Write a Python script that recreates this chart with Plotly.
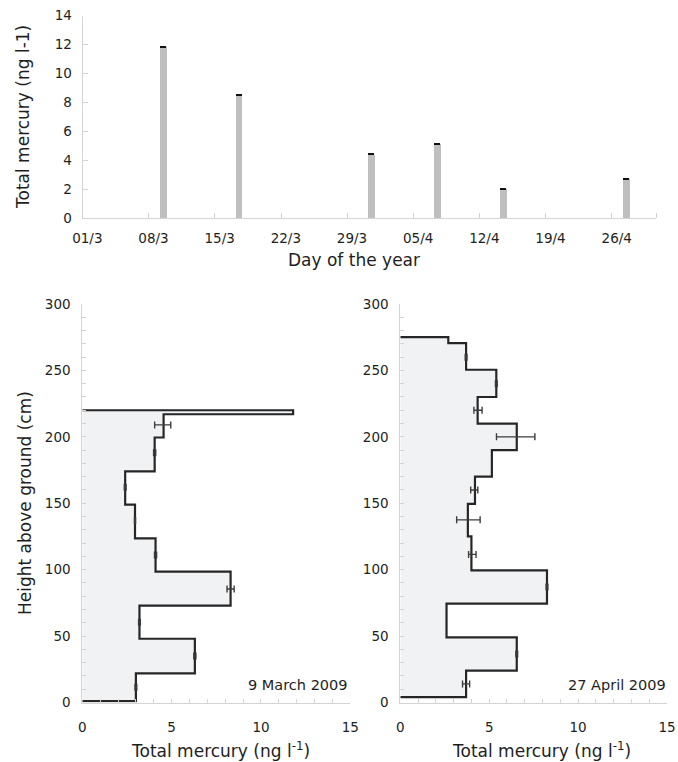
import plotly.graph_objects as go
import pandas as pd

# ---------------- data ----------------
# Top panel: surface snow total mercury by sampling date
sample_dates = ["2009-03-09", "2009-03-17", "2009-03-31", "2009-04-07", "2009-04-14", "2009-04-27"]
thg_surface = [11.85, 8.5, 4.42, 5.13, 2.03, 2.72]
thg_surface_err = [0.05, 0.04, 0.04, 0.05, 0.05, 0.05]
date_tick_labels = ["01/3", "08/3", "15/3", "22/3", "29/3", "05/4", "12/4", "19/4", "26/4"]
date_tick_days = [0, 7, 14, 21, 28, 35, 42, 49, 56]

# Bottom-left: 9 March 2009 profile (layer boundaries in cm, layer THg)
mar_bounds = [1, 22, 48, 73, 98.5, 123.5, 149, 174, 199.5, 217, 220]
mar_values = [3.0, 6.3, 3.2, 8.3, 4.1, 2.95, 2.4, 4.05, 4.55, 11.8]
mar_err_height = [11.5, 35, 60.5, 85.5, 111, 137, 162, 188, 209]
mar_err_value = [3.0, 6.3, 3.2, 8.3, 4.1, 2.95, 2.4, 4.05, 4.5]
mar_err = [0.05, 0.06, 0.05, 0.2, 0.06, 0.03, 0.05, 0.06, 0.45]

# Bottom-right: 27 April 2009 profile
apr_bounds = [4, 24, 49, 74.5, 99.5, 125, 149.5, 170, 190, 210, 230, 250.5, 270.5, 275]
apr_values = [3.7, 6.55, 2.6, 8.25, 4.0, 3.8, 4.2, 5.15, 6.55, 4.35, 5.4, 3.7, 2.7]
apr_err_height = [14, 36.5, 87, 111.5, 137.5, 160, 200, 220, 240, 260]
apr_err_value = [3.7, 6.55, 8.25, 4.05, 3.83, 4.16, 6.49, 4.37, 5.4, 3.7]
apr_err = [0.2, 0.05, 0.05, 0.21, 0.66, 0.2, 1.08, 0.23, 0.05, 0.05]

# ---------------- layout helpers ----------------
W, H = 678, 762
FONT = "DejaVu Sans, Verdana, sans-serif"
TXT = "#1e1e1e"
AX = "#d4d4d4"


def dom_x(a, b):
    return [a / W, b / W]


def dom_y(top, bottom):
    return [1 - bottom / H, 1 - top / H]


def step_path(bounds, values):
    xs, ys = [0], [bounds[0]]
    for i, v in enumerate(values):
        xs += [v, v]
        ys += [bounds[i], bounds[i + 1]]
    xs.append(0)
    ys.append(bounds[-1])
    return xs, ys


start = pd.Timestamp("2009-03-01")
bar_pos = [(pd.Timestamp(d) - start).days + 0.5 for d in sample_dates]
label_pos = [d + 0.5 for d in date_tick_days]

fig = go.Figure()

fig.add_trace(go.Bar(
    x=bar_pos, y=thg_surface, width=0.7,
    marker=dict(color="#bfbfbf", line=dict(width=0)),
    error_y=dict(type="data", array=thg_surface_err, color="#111111", thickness=1.0, width=3),
    xaxis="x", yaxis="y", showlegend=False,
))

for bounds, values, eh, ev, ee, xa, ya in [
    (mar_bounds, mar_values, mar_err_height, mar_err_value, mar_err, "x2", "y2"),
    (apr_bounds, apr_values, apr_err_height, apr_err_value, apr_err, "x3", "y3"),
]:
    xs, ys = step_path(bounds, values)
    fig.add_trace(go.Scatter(x=xs, y=ys, mode="lines", fill="toself",
                             fillcolor="#f1f2f4", line=dict(width=0),
                             xaxis=xa, yaxis=ya, showlegend=False, hoverinfo="skip"))
    fig.add_trace(go.Scatter(x=xs, y=ys, mode="lines",
                             line=dict(color="#262626", width=2.2),
                             xaxis=xa, yaxis=ya, showlegend=False))
    fig.add_trace(go.Scatter(x=ev, y=eh, mode="markers",
                             marker=dict(size=1, color="rgba(0,0,0,0)"),
                             error_x=dict(type="data", array=ee, color="#3c3c3c", thickness=1.4, width=3.5),
                             xaxis=xa, yaxis=ya, showlegend=False))

tickfont = dict(family=FONT, size=13.5, color=TXT)

common = dict(showline=True, linecolor=AX, linewidth=1, showgrid=False, zeroline=False,
              tickfont=tickfont, tickcolor=AX, fixedrange=True, automargin=False)

fig.update_layout(
    width=W, height=H,
    margin=dict(l=0, r=0, t=0, b=0, autoexpand=False),
    paper_bgcolor="white", plot_bgcolor="white",
    font=dict(family=FONT, color=TXT),
    showlegend=False,
    bargap=0,
    xaxis=dict(domain=dom_x(82.6, 656.4), anchor="y", range=[0, 60.7],
               tickmode="array", tickvals=label_pos, ticktext=date_tick_labels,
               ticks="", ticklabelstandoff=7,
               minor=dict(tickmode="array", tickvals=date_tick_days + [60.7], ticks="inside",
                          ticklen=5, tickcolor=AX, showgrid=False),
               **common),
    yaxis=dict(domain=dom_y(15.7, 218.3), anchor="x", range=[0, 14], dtick=2,
               ticks="inside", ticklen=5, ticklabelstandoff=7, **common),
    xaxis2=dict(domain=dom_x(82.3, 350.3), anchor="y2", range=[0, 15], dtick=5,
                ticks="inside", ticklen=4, ticklabelstandoff=12,
                minor=dict(dtick=1, ticks="inside", ticklen=4, tickcolor=AX, showgrid=False),
                **common),
    yaxis2=dict(domain=dom_y(304, 702.5), anchor="x2", range=[0, 300], dtick=50,
                ticks="inside", ticklen=4, ticklabelstandoff=8,
                minor=dict(dtick=10, ticks="inside", ticklen=4, tickcolor=AX, showgrid=False),
                **common),
    xaxis3=dict(domain=dom_x(400.3, 667), anchor="y3", range=[0, 15], dtick=5,
                ticks="inside", ticklen=4, ticklabelstandoff=12,
                minor=dict(dtick=1, ticks="inside", ticklen=4, tickcolor=AX, showgrid=False),
                **common),
    yaxis3=dict(domain=dom_y(304, 702.5), anchor="x3", range=[0, 300], dtick=50,
                ticks="inside", ticklen=4, ticklabelstandoff=8,
                minor=dict(dtick=10, ticks="inside", ticklen=4, tickcolor=AX, showgrid=False),
                **common),
)

title_font = dict(family=FONT, size=17, color=TXT)
ann = [
    dict(text="Total mercury (ng l-1)", x=23 / W, y=1 - 117 / H, textangle=-90),
    dict(text="Day of the year", x=354 / W, y=1 - 260 / H),
    dict(text="Height above ground (cm)", x=25 / W, y=1 - 503 / H, textangle=-90),
    dict(text="Total mercury (ng l<sup>-1</sup>)", x=220 / W, y=1 - 750 / H),
    dict(text="Total mercury (ng l<sup>-1</sup>)", x=541 / W, y=1 - 750 / H),
]
for a in ann:
    fig.add_annotation(xref="paper", yref="paper", showarrow=False,
                       xanchor="center", yanchor="middle", font=title_font, **a)

fig.add_annotation(text="9 March 2009", xref="paper", yref="paper", x=350 / W, y=1 - 685 / H,
                   xanchor="right", yanchor="middle", showarrow=False,
                   font=dict(family=FONT, size=14.5, color=TXT))
fig.add_annotation(text="27 April 2009", xref="paper", yref="paper", x=668 / W, y=1 - 685 / H,
                   xanchor="right", yanchor="middle", showarrow=False,
                   font=dict(family=FONT, size=14.5, color=TXT))

fig.write_html("out.html", config={"displayModeBar": False},
               post_script="document.body.style.margin='0px';document.body.style.overflow='hidden';")
